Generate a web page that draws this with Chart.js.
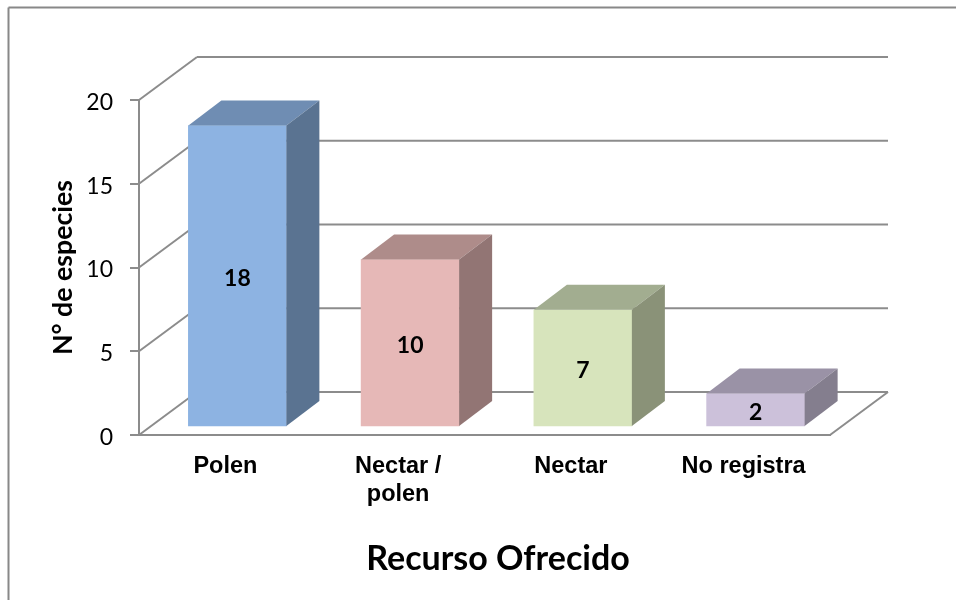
<!DOCTYPE html>
<html lang="es">
<head>
    <meta charset="UTF-8">
    <title>Recurso Ofrecido</title>
    <script src="https://cdn.jsdelivr.net/npm/chart.js"></script>
    <style>
        html, body { margin: 0; padding: 0; background: white; overflow: hidden; }
        #wrap { position: relative; width: 956px; height: 600px; }
    </style>
</head>
<body>
    <div id="wrap"><canvas id="chart"></canvas></div>

    <script>
        const categories = [['Polen'], ['Nectar /', 'polen'], ['Nectar'], ['No registra']];
        const especies = [18, 10, 7, 2];
        const yTicks = [0, 5, 10, 15, 20];
        const yTitle = 'N° de especies';
        const xTitle = 'Recurso Ofrecido';

        const frontColors = ['#8db3e2', '#e6b8b7', '#d7e4bc', '#ccc1da'];
        const topColors = ['#6f8db3', '#ae8c8a', '#a2ad90', '#9a92a6'];
        const sideColors = ['#5a7391', '#927574', '#8a9278', '#847e8e'];

        const lineColor = '#8c8c8c';
        const wall = { dx: 58, dy: -43 };    // depth of the back wall
        const barDepth = { dx: 33, dy: -25 };
        const barShift = { dx: 12, dy: -8 }; // bars stand inside the floor

        function line(ctx, x1, y1, x2, y2) {
            ctx.beginPath();
            ctx.moveTo(x1, y1);
            ctx.lineTo(x2, y2);
            ctx.stroke();
        }

        function poly(ctx, pts, color) {
            ctx.fillStyle = color;
            ctx.beginPath();
            pts.forEach((p, i) => i ? ctx.lineTo(p[0], p[1]) : ctx.moveTo(p[0], p[1]));
            ctx.closePath();
            ctx.fill();
        }

        const fake3d = {
            id: 'fake3d',
            beforeDatasetsDraw(chart) {
                const { ctx, chartArea: a, scales: { y } } = chart;
                ctx.save();
                ctx.strokeStyle = '#888888';
                ctx.lineWidth = 2;
                // chart frame, only top and left show in the crop
                line(ctx, 8.5, 600, 8.5, 7.5);
                line(ctx, 8.5, 7.5, 956, 7.5);

                ctx.strokeStyle = lineColor;
                yTicks.forEach(v => {
                    const py = y.getPixelForValue(v);
                    line(ctx, a.left, py, a.left + wall.dx, py + wall.dy);
                    line(ctx, a.left + wall.dx, py + wall.dy, a.right + wall.dx, py + wall.dy);
                });
                line(ctx, a.right, a.bottom, a.right + wall.dx, a.bottom + wall.dy);
                ctx.restore();
            },
            beforeDatasetDraw(chart) {
                chart.ctx.save();
                chart.ctx.translate(barShift.dx, barShift.dy);
            },
            afterDatasetDraw(chart) {
                const ctx = chart.ctx;
                const bars = chart.getDatasetMeta(0).data;
                bars.forEach((bar, i) => {
                    const half = bar.width / 2;
                    const l = bar.x - half, r = bar.x + half;
                    const t = bar.y, b = bar.base;
                    const d = barDepth;
                    poly(ctx, [[l, t], [r, t], [r + d.dx, t + d.dy], [l + d.dx, t + d.dy]], topColors[i]);
                    poly(ctx, [[r, t], [r + d.dx, t + d.dy], [r + d.dx, b + d.dy], [r, b]], sideColors[i]);

                    ctx.fillStyle = '#000';
                    ctx.font = 'bold 23px Lato';
                    ctx.textAlign = 'center';
                    ctx.textBaseline = 'middle';
                    ctx.fillText(String(especies[i]), bar.x, (t + b) / 2 + 3);
                });
                ctx.restore();
            },
            afterDraw(chart) {
                const ctx = chart.ctx;
                ctx.save();
                ctx.fillStyle = '#000';
                ctx.font = 'bold 34px Lato';
                ctx.textAlign = 'center';
                ctx.textBaseline = 'middle';
                ctx.fillText(xTitle, 498, 559);
                ctx.restore();
            }
        };

        new Chart(document.getElementById('chart'), {
            type: 'bar',
            data: {
                labels: categories,
                datasets: [{
                    data: especies,
                    backgroundColor: frontColors,
                    barThickness: 98
                }]
            },
            plugins: [fake3d],
            options: {
                responsive: true,
                maintainAspectRatio: false,
                animation: false,
                layout: { padding: { top: 100, right: 126, left: 47, bottom: 0 } },
                plugins: { legend: { display: false }, tooltip: { enabled: false } },
                scales: {
                    x: {
                        afterFit(scale) { scale.height = 165; },
                        grid: { display: false },
                        border: { color: lineColor, width: 2 },
                        ticks: {
                            color: '#000',
                            padding: 9,
                            maxRotation: 0,
                            autoSkip: false,
                            font: { family: 'Liberation Sans', size: 23.5, weight: 'bold', lineHeight: 1.2 }
                        }
                    },
                    y: {
                        min: 0,
                        max: 20,
                        afterFit(scale) { scale.width = 92; },
                        afterBuildTicks(scale) { scale.ticks = yTicks.map(v => ({ value: v })); },
                        grid: { drawOnChartArea: false, color: lineColor, lineWidth: 2, tickLength: 9 },
                        border: { color: lineColor, width: 2 },
                        title: {
                            display: true,
                            text: yTitle,
                            color: '#000',
                            padding: 0,
                            font: { family: 'Lato', size: 26.7, weight: 'bold' }
                        },
                        ticks: {
                            color: '#000',
                            padding: 17,
                            // empty first line nudges the number down a bit
                            callback: v => ['', String(v)],
                            font: { family: 'Lato', size: 23, lineHeight: '5px' }
                        }
                    }
                }
            }
        });
    </script>
</body>
</html>
